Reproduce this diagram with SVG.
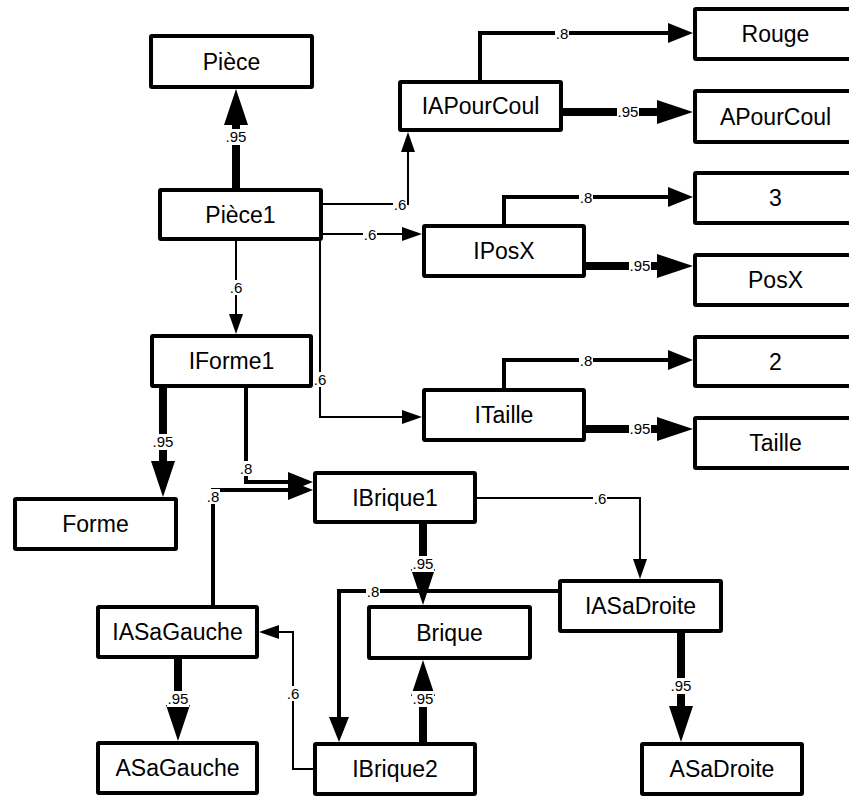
<svg xmlns="http://www.w3.org/2000/svg" width="849" height="796" viewBox="0 0 849 796">
<style>
.box{fill:#fff;stroke:#000;stroke-width:4}
.nt{font-family:"Liberation Sans",Arial,sans-serif;font-size:23px;font-weight:400;text-anchor:middle;fill:#000}
.c6{fill:none;stroke:#000;stroke-width:2}
.c8{fill:none;stroke:#000;stroke-width:4}
.c95{fill:none;stroke:#000;stroke-width:8}
.lb{fill:#fff}
.lt{font-family:"Liberation Sans",Arial,sans-serif;font-size:15px;font-weight:400;text-anchor:middle;fill:#000}
</style>
<defs>
<marker id="a6" markerUnits="userSpaceOnUse" orient="auto" markerWidth="20" markerHeight="14" refX="0" refY="7" viewBox="0 0 20 14" overflow="visible"><path d="M0,0 L20,7 L0,14 z" fill="#000"/></marker>
<marker id="a8" markerUnits="userSpaceOnUse" orient="auto" markerWidth="25" markerHeight="20" refX="0" refY="10" viewBox="0 0 25 20" overflow="visible"><path d="M0,0 L25,10 L0,20 z" fill="#000"/></marker>
<marker id="a95" markerUnits="userSpaceOnUse" orient="auto" markerWidth="36" markerHeight="24" refX="0" refY="12" viewBox="0 0 36 24" overflow="visible"><path d="M0,0 L36,12 L0,24 z" fill="#000"/></marker>
</defs>
<rect width="849" height="796" fill="#fff"/>
<g id="connectors">
<path class="c95" d="M236,188 V125" marker-end="url(#a95)"/><circle cx="236" cy="188" r="4"/>
<path class="c6" d="M323,204 H408 V152" marker-end="url(#a6)"/>
<path class="c6" d="M323,234 H402" marker-end="url(#a6)"/>
<path class="c8" d="M480,80 V33 H668" marker-end="url(#a8)"/>
<path class="c95" d="M563,112 H657" marker-end="url(#a95)"/><circle cx="563" cy="112" r="4"/>
<path class="c8" d="M504,224 V197 H668" marker-end="url(#a8)"/>
<path class="c95" d="M586,266 H657" marker-end="url(#a95)"/><circle cx="586" cy="266" r="4"/>
<path class="c6" d="M236,241 V314" marker-end="url(#a6)"/>
<path class="c6" d="M320,241 V417 H402" marker-end="url(#a6)"/>
<path class="c8" d="M504,388 V360 H668" marker-end="url(#a8)"/>
<path class="c95" d="M586,429 H657" marker-end="url(#a95)"/><circle cx="586" cy="429" r="4"/>
<path class="c95" d="M163,388 V461" marker-end="url(#a95)"/><circle cx="163" cy="388" r="4"/>
<path class="c8" d="M246,388 V482 H288" marker-end="url(#a8)"/>
<path class="c8" d="M213,605 V490 H288" marker-end="url(#a8)"/>
<path class="c95" d="M423,524 V569" marker-end="url(#a95)"/><circle cx="423" cy="524" r="4"/>
<path class="c6" d="M477,498 H640 V559" marker-end="url(#a6)"/>
<path class="c8" d="M558,591 H339 V717" marker-end="url(#a8)"/>
<path class="c95" d="M681,633 V706" marker-end="url(#a95)"/><circle cx="681" cy="633" r="4"/>
<path class="c95" d="M178,659 V705" marker-end="url(#a95)"/><circle cx="178" cy="659" r="4"/>
<path class="c6" d="M313,769 H293 V632 H279" marker-end="url(#a6)"/>
<path class="c95" d="M423,742 V696" marker-end="url(#a95)"/><circle cx="423" cy="742" r="4"/>
<g id="labels">
<rect class="lb" x="225" y="129" width="22" height="16"/><text class="lt" x="236" y="142">.95</text>
<rect class="lb" x="393" y="197" width="14" height="15"/><text class="lt" x="400" y="210">.6</text>
<rect class="lb" x="363" y="227" width="14" height="15"/><text class="lt" x="370" y="240">.6</text>
<rect class="lb" x="555" y="26" width="14" height="15"/><text class="lt" x="562" y="39">.8</text>
<rect class="lb" x="617" y="104" width="22" height="16"/><text class="lt" x="628" y="117">.95</text>
<rect class="lb" x="579" y="190" width="14" height="15"/><text class="lt" x="586" y="203">.8</text>
<rect class="lb" x="629" y="258" width="22" height="16"/><text class="lt" x="640" y="271">.95</text>
<rect class="lb" x="229" y="280" width="14" height="15"/><text class="lt" x="236" y="293">.6</text>
<rect class="lb" x="313" y="372" width="14" height="15"/><text class="lt" x="320" y="385">.6</text>
<rect class="lb" x="579" y="353" width="14" height="15"/><text class="lt" x="586" y="366">.8</text>
<rect class="lb" x="629" y="421" width="22" height="16"/><text class="lt" x="640" y="434">.95</text>
<rect class="lb" x="152" y="434" width="22" height="16"/><text class="lt" x="163" y="447">.95</text>
<rect class="lb" x="239" y="461" width="14" height="15"/><text class="lt" x="246" y="474">.8</text>
<rect class="lb" x="206" y="489" width="14" height="15"/><text class="lt" x="213" y="502">.8</text>
<rect class="lb" x="412" y="556" width="22" height="16"/><text class="lt" x="423" y="569">.95</text>
<rect class="lb" x="593" y="491" width="14" height="15"/><text class="lt" x="600" y="504">.6</text>
<rect class="lb" x="366" y="584" width="14" height="15"/><text class="lt" x="373" y="597">.8</text>
<rect class="lb" x="670" y="678" width="22" height="16"/><text class="lt" x="681" y="691">.95</text>
<rect class="lb" x="167" y="691" width="22" height="16"/><text class="lt" x="178" y="704">.95</text>
<rect class="lb" x="286" y="686" width="14" height="15"/><text class="lt" x="293" y="699">.6</text>
<rect class="lb" x="412" y="691" width="22" height="16"/><text class="lt" x="423" y="704">.95</text>
</g>
</g>
<g id="Piece"><rect class="box" x="151" y="36" width="161" height="51" rx="1"/><text class="nt" x="231.5" y="69.5">Pièce</text></g>
<g id="Piece1"><rect class="box" x="160" y="190" width="161" height="49" rx="1"/><text class="nt" x="240.5" y="222.5">Pièce1</text></g>
<g id="IAPourCoul"><rect class="box" x="400" y="82" width="161" height="48" rx="1"/><text class="nt" x="480.5" y="114">IAPourCoul</text></g>
<g id="Rouge"><rect class="box" x="695" y="9" width="161" height="50" rx="1"/><text class="nt" x="775.5" y="42">Rouge</text></g>
<g id="APourCoul"><rect class="box" x="695" y="91" width="161" height="51" rx="1"/><text class="nt" x="775.5" y="124.5">APourCoul</text></g>
<g id="IPosX"><rect class="box" x="424" y="226" width="160" height="50" rx="1"/><text class="nt" x="504" y="259">IPosX</text></g>
<g id="n3"><rect class="box" x="695" y="173" width="161" height="50" rx="1"/><text class="nt" x="775.5" y="206">3</text></g>
<g id="PosX"><rect class="box" x="695" y="255" width="161" height="50" rx="1"/><text class="nt" x="775.5" y="288">PosX</text></g>
<g id="IForme1"><rect class="box" x="152" y="336" width="159" height="50" rx="1"/><text class="nt" x="231.5" y="369">IForme1</text></g>
<g id="ITaille"><rect class="box" x="424" y="390" width="160" height="50" rx="1"/><text class="nt" x="504" y="423">ITaille</text></g>
<g id="n2"><rect class="box" x="695" y="337" width="161" height="49" rx="1"/><text class="nt" x="775.5" y="369.5">2</text></g>
<g id="Taille"><rect class="box" x="695" y="418" width="161" height="50" rx="1"/><text class="nt" x="775.5" y="451">Taille</text></g>
<g id="Forme"><rect class="box" x="15" y="499" width="161" height="50" rx="1"/><text class="nt" x="95.5" y="532">Forme</text></g>
<g id="IBrique1"><rect class="box" x="315" y="473" width="160" height="49" rx="1"/><text class="nt" x="395" y="505.5">IBrique1</text></g>
<g id="IASaGauche"><rect class="box" x="98" y="607" width="159" height="50" rx="1"/><text class="nt" x="177.5" y="640">IASaGauche</text></g>
<g id="ASaGauche"><rect class="box" x="98" y="743" width="159" height="50" rx="1"/><text class="nt" x="177.5" y="776">ASaGauche</text></g>
<g id="Brique"><rect class="box" x="369" y="607" width="161" height="51" rx="1"/><text class="nt" x="449.5" y="640.5">Brique</text></g>
<g id="IBrique2"><rect class="box" x="315" y="744" width="160" height="50" rx="1"/><text class="nt" x="395" y="777">IBrique2</text></g>
<g id="IASaDroite"><rect class="box" x="560" y="581" width="161" height="50" rx="1"/><text class="nt" x="640.5" y="614">IASaDroite</text></g>
<g id="ASaDroite"><rect class="box" x="642" y="744" width="160" height="50" rx="1"/><text class="nt" x="722" y="777">ASaDroite</text></g>
</svg>
